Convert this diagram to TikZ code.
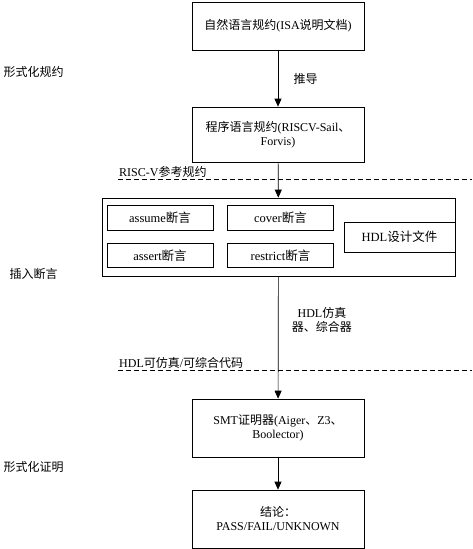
\documentclass[tikz,border=0pt]{standalone}
\usepackage{fontspec}
\setmainfont{Liberation Serif}
\newfontfamily\zh{Noto Sans CJK SC}
\usetikzlibrary{arrows.meta, positioning}

\begin{document}
\begin{tikzpicture}[
    x=1pt, y=-1pt,
    font=\fontsize{12}{14}\selectfont,
    box/.style={draw, line width=0.7pt, inner sep=0pt, align=center,
                minimum width=172pt, minimum height=55pt},
    small/.style={draw, line width=0.7pt, inner sep=0pt,
                  font=\fontsize{12.5}{14}\selectfont,
                  minimum width=106pt, minimum height=24.5pt},
    flow/.style={-{Triangle[length=8pt, width=7pt]}, line width=0.7pt},
    sep/.style={dashed, dash pattern=on 5pt off 3pt, line width=0.7pt},
]
\useasboundingbox (0,0) rectangle (472,549);

% --- especificaciones ---
\node[box, minimum height=48pt] (natspec) at (278,26)
    {{\zh 自然语言规约}(ISA{\zh 说明文档})};
\node[box] (progspec) at (278,134.5)
    {{\zh 程序语言规约}(RISCV-Sail{\zh 、}\\Forvis)};
\node[anchor=west] (lblspec) at (0,72) {\zh 形式化规约};

\coordinate (sepA) at (118,179);
\coordinate (sepAend) at (472,179);
\draw[sep] (sepA) -- (sepAend);
\node[above right, inner sep=1pt] (lblrisc) at (sepA) {RISC-V{\zh 参考规约}};

% --- asserciones ---
\node[draw, line width=0.7pt, minimum width=353pt, minimum height=78pt,
      inner sep=0pt] (asrt) at (278.5,237) {};
\node[small] (assume) at (160,218) {assume{\zh 断言}};
\node[small] (cover) at (280.5,218) {cover{\zh 断言}};
\node[small] (assert) at (160,255.5) {assert{\zh 断言}};
\node[small] (restrict) at (280.5,255.5) {restrict{\zh 断言}};
\node[small, minimum width=111pt, minimum height=30pt] (hdl) at (399.5,237)
    {HDL{\zh 设计文件}};
\node[anchor=west] (lblins) at (6,274) {\zh 插入断言};

\coordinate (sepB) at (118,370);
\coordinate (sepBend) at (472,370);
\draw[sep] (sepB) -- (sepBend);
\node[above right, inner sep=1pt] (lblhdl) at (sepB) {HDL{\zh 可仿真}/{\zh 可综合代码}};

% --- prueba ---
\node[box, minimum height=58pt] (smt) at (278,428)
    {SMT{\zh 证明器}(Aiger{\zh 、}Z3{\zh 、}\\Boolector)};
\node[box, minimum height=58pt] (result) at (278,519)
    {{\zh 结论：}\\PASS/FAIL/UNKNOWN};
\node[anchor=west] (lblproof) at (0,467) {\zh 形式化证明};

\draw[flow] (natspec) -- node[right=12pt] {\zh 推导} (progspec);
\draw[flow] (progspec) -- (asrt);
\draw[flow] (asrt) -- node[pos=0.36, right=10pt, align=center]
    {HDL{\zh 仿真}\\{\zh 器、综合器}} (smt);
\draw[flow] (smt) -- (result);

\end{tikzpicture}
\end{document}
